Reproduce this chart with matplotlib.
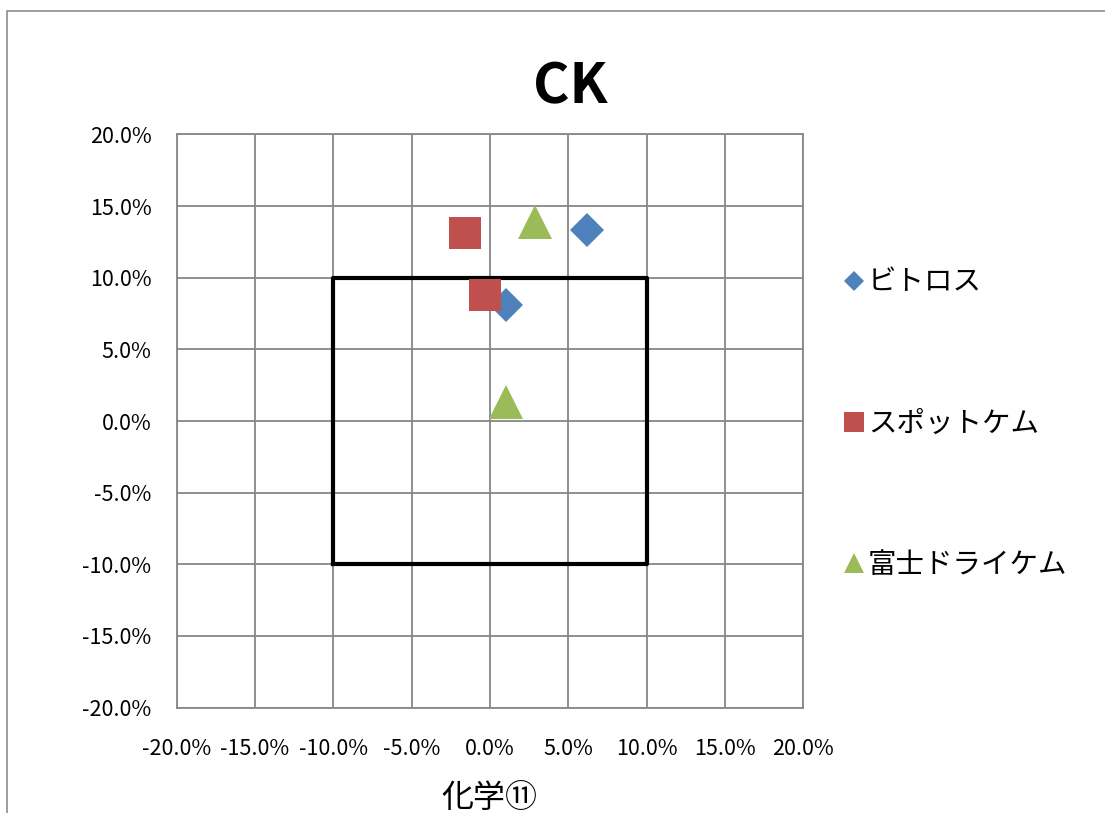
import matplotlib
matplotlib.use('Agg')
import matplotlib.pyplot as plt
from matplotlib.lines import Line2D
from matplotlib.patches import Rectangle
from matplotlib.ticker import FuncFormatter, MultipleLocator

plt.rcParams['font.family'] = ['Noto Sans CJK JP', 'DejaVu Sans']

# data (percent)
series_names = ['ビトロス', 'スポットケム', '富士ドライケム']
vitros_x = [6.2, 1.0]
vitros_y = [13.3, 8.1]
spotchem_x = [-1.6, -0.3]
spotchem_y = [13.1, 8.8]
fuji_x = [2.9, 1.0]
fuji_y = [13.9, 1.3]
box_limits = [-10.0, 10.0]

colors = ['#4F81BD', '#C0504D', '#9BBB59']
markers = ['D', 's', '^']
sizes = [17.5, 23.5, 25]
legend_sizes = [10.5, 14.5, 14.5]

fig = plt.figure(figsize=(11.05, 8.13), dpi=100)
ax = fig.add_axes([0.1598, 0.1296, 0.5673, 0.7051])

# outer chart border (cut off at right/bottom)
fig.patches.append(Rectangle((7 / 1105, -0.1), 1.2, 1.1 - 11 / 813,
                             transform=fig.transFigure, fill=False,
                             edgecolor='#8c8c8c', linewidth=1.2))

ax.set_xlim(-20, 20)
ax.set_ylim(-20, 20)
ax.xaxis.set_major_locator(MultipleLocator(5))
ax.yaxis.set_major_locator(MultipleLocator(5))
pct = FuncFormatter(lambda v, p: f'{v:.1f}%')
ax.xaxis.set_major_formatter(pct)
ax.yaxis.set_major_formatter(pct)
ax.tick_params(length=0, labelsize=15.5)
ax.tick_params(axis='x', pad=22)
ax.tick_params(axis='y', pad=18)
ax.grid(True, color='#878787', linewidth=1.3)
ax.set_axisbelow(True)
for s in ax.spines.values():
    s.set_color('#878787')
    s.set_linewidth(1.3)

# reference box
lo, hi = box_limits
ax.plot([lo, hi, hi, lo, lo], [lo, lo, hi, hi, lo], color='black', linewidth=3, zorder=2)

data = [(vitros_x, vitros_y), (spotchem_x, spotchem_y), (fuji_x, fuji_y)]
for (xs, ys), c, m, ms in zip(data, colors, markers, sizes):
    ax.plot(xs, ys, linestyle='none', marker=m, markersize=ms, color=c,
            markeredgewidth=0, zorder=3)

handles = [Line2D([], [], linestyle='none', marker=m, markersize=ms, color=c, markeredgewidth=0)
           for m, ms, c in zip(markers, legend_sizes, colors)]
fig.legend(handles, series_names, loc='center left', bbox_to_anchor=(0.748, 0.479),
           frameon=False, fontsize=20.5, labelspacing=3.9, handlelength=0.9,
           handletextpad=0.05, borderpad=0)

fig.text(0.516, 0.892, 'CK', ha='center', va='center', fontsize=40, fontweight='bold')
fig.text(0.443, 0.018, '化学⑪', ha='center', va='center', fontsize=23)

fig.savefig('out.png', dpi=100)
